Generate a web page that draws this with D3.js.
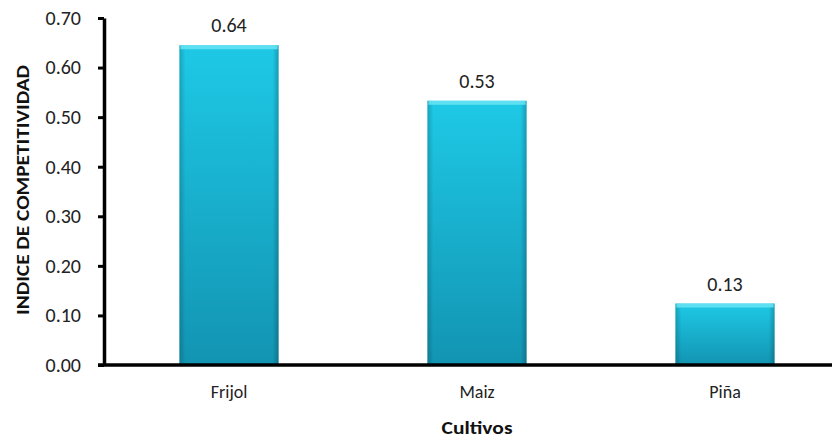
<!DOCTYPE html>
<html>
<head>
<meta charset="utf-8">
<script src="https://cdn.jsdelivr.net/npm/d3@7"></script>
<style>
  body { margin: 0; background: #fff; }
  svg { display: block; }
</style>
</head>
<body>
<div id="root"></div>
<script>
const cultivos = ["Frijol", "Maiz", "Piña"];
const indice = [0.645, 0.533, 0.124];
const etiquetas = ["0.64", "0.53", "0.13"];
const yTicks = [0, 0.1, 0.2, 0.3, 0.4, 0.5, 0.6, 0.7];

const width = 832;
const height = 439;
const plotLeft = 104;
const plotBottom = 365;
const plotTop = 18;

const font = "Carlito, Lato, 'Open Sans', sans-serif";

const yScale = d3.scaleLinear().domain([0, 0.7]).range([plotBottom, plotTop]);

// step ~248px, bars ~98px wide (Excel gap width 150%)
const xScale = d3
  .scaleBand()
  .domain(cultivos)
  .range([plotLeft + 1, plotLeft + 1 + 3 * 248])
  .paddingInner(0.6)
  .paddingOuter(0.3);

const svg = d3
  .select("#root")
  .append("svg")
  .attr("width", width)
  .attr("height", height);

const defs = svg.append("defs");
const grad = defs
  .append("linearGradient")
  .attr("id", "barGrad")
  .attr("x1", 0).attr("y1", 0).attr("x2", 0).attr("y2", 1);
grad.append("stop").attr("offset", "0%").attr("stop-color", "#1ec9e6");
grad.append("stop").attr("offset", "100%").attr("stop-color", "#1294b2");

const side = defs
  .append("linearGradient")
  .attr("id", "sideGrad")
  .attr("x1", 0).attr("y1", 0).attr("x2", 1).attr("y2", 0);
side.append("stop").attr("offset", "0%").attr("stop-color", "#000").attr("stop-opacity", 0.18);
side.append("stop").attr("offset", "6%").attr("stop-color", "#000").attr("stop-opacity", 0);
side.append("stop").attr("offset", "94%").attr("stop-color", "#000").attr("stop-opacity", 0);
side.append("stop").attr("offset", "100%").attr("stop-color", "#000").attr("stop-opacity", 0.22);

const data = cultivos.map((c, i) => ({ c, v: indice[i], t: etiquetas[i] }));

const bars = svg.append("g").selectAll("g").data(data).enter().append("g");

bars
  .append("rect")
  .attr("x", (d) => xScale(d.c))
  .attr("y", (d) => yScale(d.v))
  .attr("width", xScale.bandwidth())
  .attr("height", (d) => plotBottom - yScale(d.v))
  .attr("fill", "url(#barGrad)");

bars
  .append("rect")
  .attr("x", (d) => xScale(d.c))
  .attr("y", (d) => yScale(d.v))
  .attr("width", xScale.bandwidth())
  .attr("height", (d) => plotBottom - yScale(d.v))
  .attr("fill", "url(#sideGrad)");

// bevel highlight along top edge
bars
  .append("rect")
  .attr("x", (d) => xScale(d.c) + 1)
  .attr("y", (d) => yScale(d.v))
  .attr("width", xScale.bandwidth() - 2)
  .attr("height", 4)
  .attr("fill", "#6ee6f5")
  .attr("opacity", 0.8);

bars
  .append("text")
  .attr("x", (d) => xScale(d.c) + xScale.bandwidth() / 2)
  .attr("y", (d) => yScale(d.v) - 13)
  .attr("text-anchor", "middle")
  .style("font-family", font)
  .style("font-size", "20px")
  .style("fill", "#222")
  .text((d) => d.t);

// y axis
const yAxis = d3
  .axisLeft(yScale)
  .tickValues(yTicks)
  .tickFormat(d3.format(".2f"))
  .tickSize(6)
  .tickSizeOuter(0);

const gy = svg
  .append("g")
  .attr("transform", `translate(${plotLeft},0)`)
  .call(yAxis);
gy.select(".domain").attr("stroke", "#000").attr("stroke-width", 3.5);
gy.selectAll(".tick line").attr("stroke", "#000").attr("stroke-width", 3);
gy.selectAll(".tick text")
  .attr("x", -23)
  .style("font-family", font)
  .style("font-size", "20px")
  .style("fill", "#222");

// x axis
const xAxis = d3.axisBottom(xScale).tickSize(0).tickSizeOuter(0);
const gx = svg
  .append("g")
  .attr("transform", `translate(0,${plotBottom})`)
  .call(xAxis);
gx.select(".domain").remove();
gx.append("line")
  .attr("x1", plotLeft - 6)
  .attr("x2", width)
  .attr("stroke", "#000")
  .attr("stroke-width", 3.5);
gx.selectAll(".tick text")
  .attr("dy", 0)
  .attr("y", 33)
  .style("font-family", font)
  .style("font-size", "18px")
  .style("fill", "#222");

svg
  .append("text")
  .attr("x", xScale("Maiz") + xScale.bandwidth() / 2)
  .attr("y", 434)
  .attr("text-anchor", "middle")
  .attr("textLength", 71)
  .attr("lengthAdjust", "spacingAndGlyphs")
  .style("font-family", font)
  .style("font-size", "18px")
  .style("font-weight", "bold")
  .style("fill", "#111")
  .text("Cultivos");

svg
  .append("text")
  .attr("transform", "translate(29,190) rotate(-90)")
  .attr("text-anchor", "middle")
  .attr("textLength", 250)
  .attr("lengthAdjust", "spacingAndGlyphs")
  .style("font-family", font)
  .style("font-size", "17px")
  .style("font-weight", "bold")
  .style("fill", "#111")
  .text("INDICE DE COMPETITIVIDAD");
</script>
</body>
</html>
